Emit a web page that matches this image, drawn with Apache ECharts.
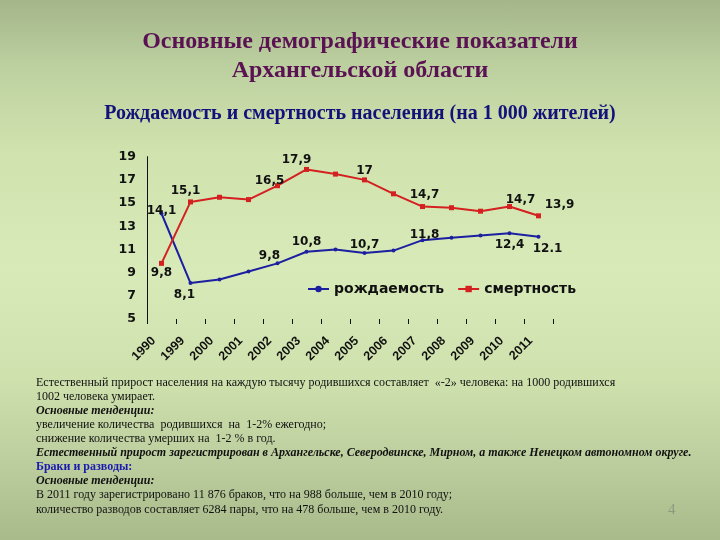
<!DOCTYPE html>
<html>
<head>
<meta charset="utf-8">
<script src="https://cdn.jsdelivr.net/npm/echarts@6/dist/echarts.min.js"></script>
<style>
html,body{margin:0;padding:0;}
#c{width:720px;height:540px;background:linear-gradient(to bottom,#a4b68a 0%,#bccf9f 12%,#d0e3ae 28%,#d8eab8 50%,#cfe1ad 70%,#b9cb9b 88%,#a8b98a 100%);}
</style>
</head>
<body>
<div id="c"></div>
<script>
var categories = ['1990','1999','2000','2001','2002','2003','2004','2005','2006','2007','2008','2009','2010','2011'];
var birthRate = [14.1, 8.1, 8.4, 9.1, 9.8, 10.8, 11.0, 10.7, 10.9, 11.8, 12.0, 12.2, 12.4, 12.1];
var deathRate = [9.8, 15.1, 15.5, 15.3, 16.5, 17.9, 17.5, 17.0, 15.8, 14.7, 14.6, 14.3, 14.7, 13.9];
var birthLabels = ['14,1','8,1','','','9,8','10,8','','10,7','','11,8','','','12,4','12.1'];
var deathLabels = ['9,8','15,1','','','16,5','17,9','','17','','14,7','','','14,7','13,9'];
var seriesNames = ['рождаемость','смертность'];
var yTicks = {min:5, max:19, interval:2};

var birthOffsets = [[0,-3],[-6,12],[0,0],[0,0],[-8,-7],[0,-10],[0,0],[0,-8],[0,0],[2,-5],[0,0],[0,0],[0,12],[9,12]];
var deathOffsets = [[0,10],[-5,-11],[0,0],[0,0],[-8,-5],[-10,-10],[0,0],[0,-9],[0,0],[2,-12],[0,0],[0,0],[11,-7],[21,-11]];

function build(vals, labels, offs){
  return vals.map(function(v,i){
    return {value:v, label:{show: labels[i] !== '', offset: offs[i], formatter: labels[i]}};
  });
}

var textLines = [
  {t:'Естественный прирост населения на каждую тысячу родившихся составляет  «-2» человека: на 1000 родившихся', s:'normal', w:'normal', c:'#111'},
  {t:'1002 человека умирает.', s:'normal', w:'normal', c:'#111'},
  {t:'Основные тенденции:', s:'italic', w:'bold', c:'#111'},
  {t:'увеличение количества  родившихся  на  1-2% ежегодно;', s:'normal', w:'normal', c:'#111'},
  {t:'снижение количества умерших на  1-2 % в год.', s:'normal', w:'normal', c:'#111'},
  {t:'Естественный прирост зарегистрирован в Архангельске, Северодвинске, Мирном, а также Ненецком автономном округе.', s:'italic', w:'bold', c:'#111'},
  {t:'Браки и разводы:', s:'normal', w:'bold', c:'#1a1ab0'},
  {t:'Основные тенденции:', s:'italic', w:'bold', c:'#111'},
  {t:'В 2011 году зарегистрировано 11 876 браков, что на 988 больше, чем в 2010 году;', s:'normal', w:'normal', c:'#111'},
  {t:'количество разводов составляет 6284 пары, что на 478 больше, чем в 2010 году.', s:'normal', w:'normal', c:'#111'}
];

var graphics = textLines.map(function(l,i){
  return {type:'text', left:36, top:376.5 + i*14.1, style:{text:l.t, fill:l.c, font: l.s+' '+l.w+' 12px "Liberation Serif"'}};
});
graphics.push({type:'text', left:668, top:503, style:{text:'4', fill:'#8c9a82', font:'normal 15px "Liberation Serif"'}});

var lblFont = {fontFamily:'DejaVu Sans', fontWeight:'bold', fontSize:12, color:'#111'};

var chart = echarts.init(document.getElementById('c'));
chart.setOption({
  animation:false,
  title:[
    {text:'Основные демографические показатели\nАрхангельской области', left:'center', top:22,
     textStyle:{fontFamily:'Liberation Serif', fontWeight:'bold', fontSize:24, color:'#5a1252', lineHeight:29}},
    {text:'Рождаемость и смертность населения (на 1 000 жителей)', left:'center', top:99,
     textStyle:{fontFamily:'Liberation Serif', fontWeight:'bold', fontSize:20, color:'#12127a'}}
  ],
  legend:{
    data:seriesNames, left:302, top:277, itemWidth:21, itemHeight:8, itemGap:13,
    textStyle:{fontFamily:'DejaVu Sans', fontWeight:'bold', fontSize:14, color:'#111'}
  },
  grid:{left:147, right:167, top:156.7, bottom:221},
  xAxis:{
    type:'category', data:categories, boundaryGap:true,
    axisLine:{show:false},
    axisTick:{show:true, length:5, lineStyle:{color:'#111'}},
    axisLabel:{interval:0, rotate:45, margin:12, padding:[0,11,0,0], fontFamily:'Liberation Sans', fontWeight:'bold', fontSize:12.5, color:'#111'}
  },
  yAxis:{
    type:'value', min:yTicks.min, max:yTicks.max, interval:yTicks.interval,
    splitLine:{show:false},
    axisLine:{show:true, lineStyle:{color:'#111', width:1}},
    axisTick:{show:false},
    axisLabel:{margin:11, fontFamily:'DejaVu Sans', fontWeight:'bold', fontSize:12.5, color:'#111'}
  },
  series:[
    {name:seriesNames[0], type:'line', data:build(birthRate, birthLabels, birthOffsets),
     symbol:'circle', symbolSize:4, itemStyle:{color:'#1c20a0'}, lineStyle:{color:'#1c20a0', width:2},
     label:Object.assign({position:'inside'}, lblFont)},
    {name:seriesNames[1], type:'line', data:build(deathRate, deathLabels, deathOffsets),
     symbol:'rect', symbolSize:5, itemStyle:{color:'#d42020'}, lineStyle:{color:'#d42020', width:2},
     label:Object.assign({position:'inside'}, lblFont)}
  ],
  graphic:graphics
});
</script>
</body>
</html>
